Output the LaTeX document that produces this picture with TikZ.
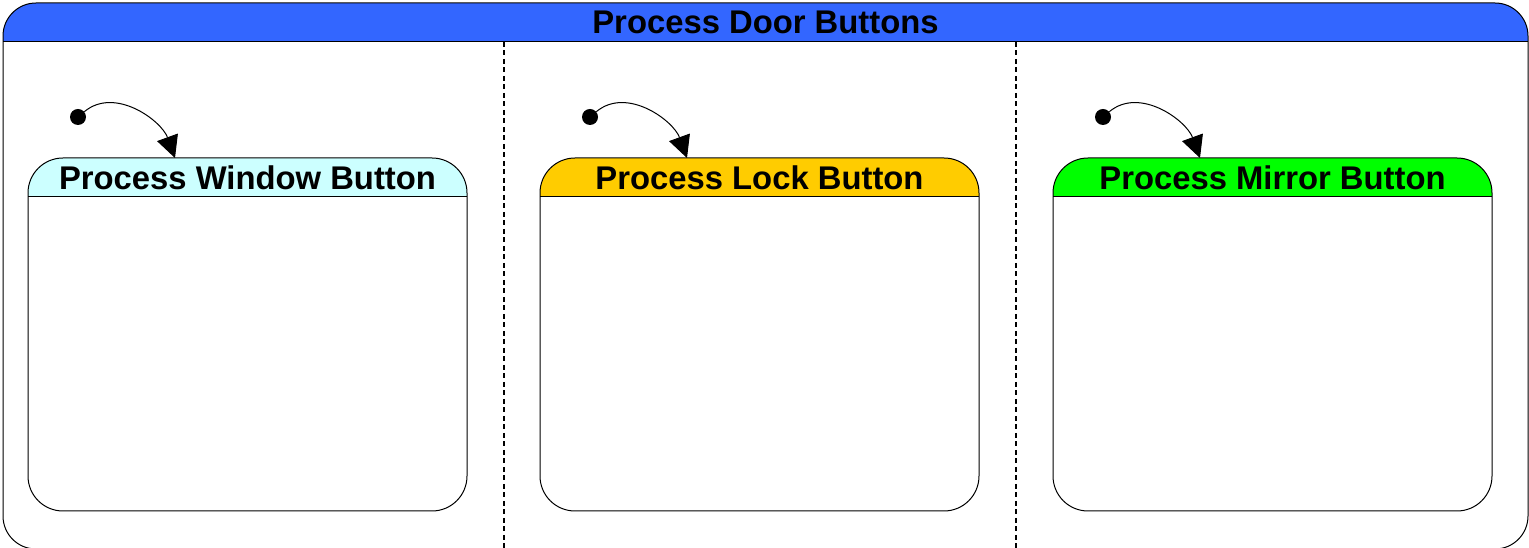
\documentclass[tikz,border=0pt]{standalone}
\usepackage{fontspec}
\setmainfont{Liberation Sans}
\usetikzlibrary{arrows.meta}
\definecolor{doorblue}{RGB}{51,102,255}
\definecolor{windowcyan}{RGB}{204,255,255}
\definecolor{lockamber}{RGB}{255,204,0}
\definecolor{mirrorgreen}{RGB}{0,255,0}
\tikzset{
  headedbox/.style 2 args={rectangle, draw=black, line width=1pt, fill=white,
    inner sep=0pt, outer sep=0pt, rounded corners=#2,
    path picture={
      \fill[#1, sharp corners] (path picture bounding box.north west)
        rectangle ([yshift=-39pt]path picture bounding box.north east);
      \draw[line width=1pt, sharp corners] ([yshift=-39pt]path picture bounding box.north west)
        -- ([yshift=-39pt]path picture bounding box.north east);
    }},
  statebox/.style={headedbox={#1}{35pt}, minimum width=439pt, minimum height=353pt},
  titletext/.style={font=\fontsize{32.8}{36}\selectfont\bfseries, inner sep=0pt},
  divider/.style={line width=2.4pt, dash pattern=on 5pt off 3.5pt},
  initdot/.style={circle, fill=black, minimum size=16pt, inner sep=0pt},
  initarrow/.style={line width=1pt, -{Triangle[length=22pt,width=22pt]}},
}
\begin{document}
\begin{tikzpicture}[x=1pt,y=1pt]
\useasboundingbox (0,0) rectangle (1529,548);
\clip (0,0) rectangle (1529,548);

% outer composite state
\node[headedbox={doorblue}{33pt}, minimum width=1525pt, minimum height=546pt] (outer) at (765.5,272) {};
\node[titletext] (outertitle) at ([yshift=-19.5pt]outer.north) {Process Door Buttons};

% region separators
\coordinate (d1top) at (504,506);
\coordinate (d1bot) at (504,-2);
\coordinate (d2top) at (1016,506);
\coordinate (d2bot) at (1016,-2);
\draw[divider] (d1top) -- (d1bot);
\draw[divider] (d2top) -- (d2bot);

% regional states
\node[statebox=windowcyan] (win) at (247.5,213.5) {};
\node[statebox=lockamber] (lock) at (759.5,213.5) {};
\node[statebox=mirrorgreen] (mirror) at (1272.5,213.5) {};
\node[titletext] (wintitle) at ([yshift=-19.5pt]win.north) {Process Window Button};
\node[titletext] (locktitle) at ([yshift=-19.5pt]lock.north) {Process Lock Button};
\node[titletext] (mirrortitle) at ([yshift=-19.5pt]mirror.north) {Process Mirror Button};

% initial pseudostates
\node[initdot] (iwin) at (78,431) {};
\node[initdot] (ilock) at (590,431) {};
\node[initdot] (imirror) at (1103,431) {};
\coordinate (twin) at ([xshift=-72.5pt]win.north);
\coordinate (tlock) at ([xshift=-72.5pt]lock.north);
\coordinate (tmirror) at ([xshift=-72.5pt]mirror.north);
\draw[initarrow] (iwin) to[out=40,in=110] (twin);
\draw[initarrow] (ilock) to[out=40,in=110] (tlock);
\draw[initarrow] (imirror) to[out=40,in=110] (tmirror);
\end{tikzpicture}
\end{document}
